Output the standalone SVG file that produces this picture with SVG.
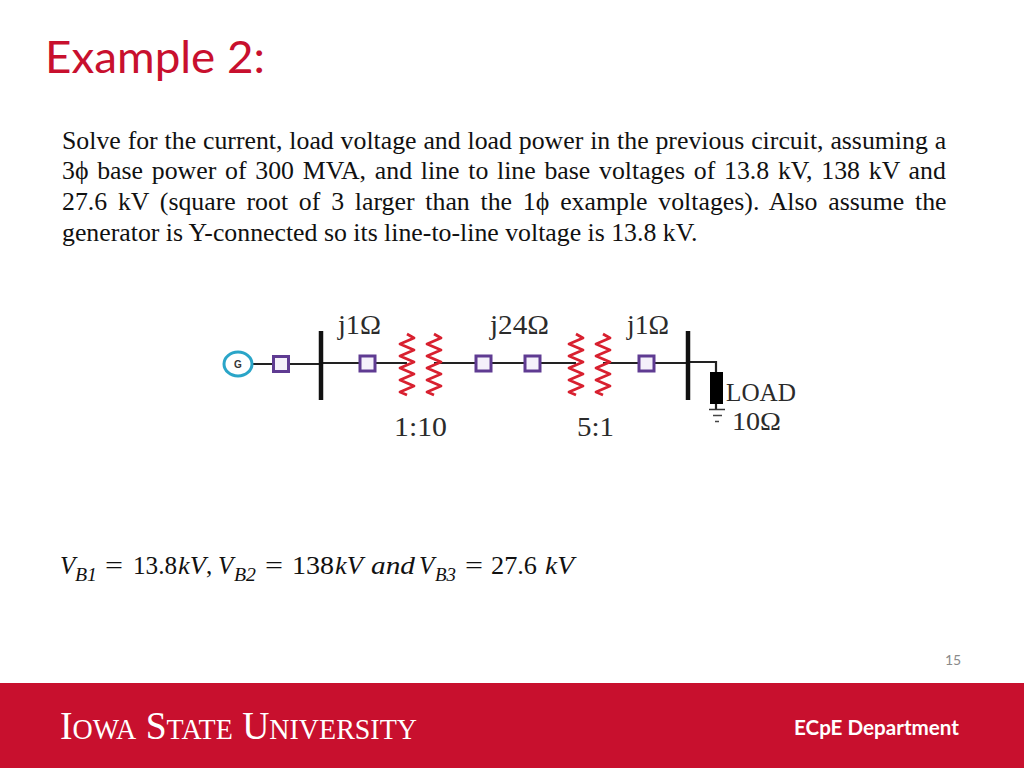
<svg xmlns="http://www.w3.org/2000/svg" width="1024" height="768" viewBox="0 0 1024 768">
<style>
.body{font-family:"Liberation Serif",serif;font-size:25.8px;fill:#111}
.lab{font-family:"Liberation Serif",serif;font-size:28px;fill:#2b2b2b}
.lab2{font-family:"Liberation Serif",serif;font-size:25.5px;fill:#2b2b2b}
.eq{font-family:"Liberation Serif",serif;font-size:25px;fill:#111}
.it{font-style:italic}
.sub{font-size:18px;font-style:italic}
.wire{fill:none;stroke:#222;stroke-width:2.2}
.bus{stroke:#111;stroke-width:4.500;fill:none}
.sq{fill:#f4f0fa;stroke:#5f3b92;stroke-width:3}
.coil{fill:none;stroke:#d8202f;stroke-width:2.800;stroke-linejoin:round}
.logo{font-family:"Liberation Serif",serif;fill:#fff}
</style>
<defs>
<path id="zig" class="coil" d="M0 0L7 4L-7 10L7 16L-7 22L7 28L-7 34L7 40L-7 46L7 52L-7 58L0 61"/>
</defs>
<rect width="1024" height="768" fill="#fff"/>
<text id="title" x="45" y="73" font-family="Lato,sans-serif" font-size="44" fill="#c8102e" textLength="220" lengthAdjust="spacingAndGlyphs">Example 2:</text>
<g id="para" class="body">
<text x="62" y="149" word-spacing="0.42">Solve for the current, load voltage and load power in the previous circuit, assuming a</text>
<text x="62" y="179" word-spacing="2.3">3ϕ base power of 300 MVA, and line to line base voltages of 13.8 kV, 138 kV and</text>
<text x="62" y="210" word-spacing="4.35">27.6 kV (square root of 3 larger than the 1ϕ example voltages). Also assume the</text>
<text x="62" y="241">generator is Y-connected so its line-to-line voltage is 13.8 kV.</text>
</g>
<g id="connectors">
<path class="wire" d="M252 364H321M321 363H407M434 363H576M603 363H688M688 362H716V373"/>
<path class="wire" d="M716 404V409"/>
<path d="M709 409.500H725" stroke="#333" stroke-width="1.500"/>
<path d="M713 415.500H722M715 421.500H719" stroke="#444" stroke-width="1.500"/>
</g>
<g id="gen">
<ellipse cx="238" cy="364" rx="14" ry="12" fill="#fff" stroke="#2aa5c8" stroke-width="3"/>
<text x="238" y="368" text-anchor="middle" font-family="Liberation Sans,sans-serif" font-size="10" font-weight="bold" fill="#333">G</text>
</g>
<g id="bus1"><path class="bus" d="M321 331V400"/></g>
<g id="bus2"><path class="bus" d="M688 331V400"/></g>
<g id="z1"><rect class="sq" x="273.500" y="356.500" width="15" height="15"/></g>
<g id="z2"><rect class="sq" x="360" y="356" width="15" height="15"/></g>
<g id="z3"><rect class="sq" x="476" y="356" width="15" height="15"/></g>
<g id="z4"><rect class="sq" x="525" y="356" width="15" height="15"/></g>
<g id="z5"><rect class="sq" x="639" y="356" width="15" height="15"/></g>
<g id="t1"><use href="#zig" x="407" y="334"/><use href="#zig" x="434" y="334"/></g>
<g id="t2"><use href="#zig" x="576" y="334"/><use href="#zig" x="603" y="334"/></g>
<g id="load"><rect x="710" y="372" width="13" height="32" fill="#000"/></g>
<g id="labels" class="lab">
<text x="338" y="334" textLength="43" lengthAdjust="spacingAndGlyphs">j1Ω</text>
<text x="490" y="334" textLength="59" lengthAdjust="spacingAndGlyphs">j24Ω</text>
<text x="627" y="334" textLength="42" lengthAdjust="spacingAndGlyphs">j1Ω</text>
<text x="394" y="436" textLength="53" lengthAdjust="spacingAndGlyphs">1:10</text>
<text x="577" y="436" textLength="37" lengthAdjust="spacingAndGlyphs">5:1</text>
<text class="lab2" x="726" y="401" textLength="70" lengthAdjust="spacingAndGlyphs">LOAD</text>
<text class="lab2" x="732" y="430" textLength="49" lengthAdjust="spacingAndGlyphs">10Ω</text>
</g>
<g id="equation" class="eq">
<text class="it" x="60" y="574">V</text><text class="sub" x="75" y="581" textLength="22" lengthAdjust="spacingAndGlyphs">B1</text>
<text x="105" y="574" textLength="18" lengthAdjust="spacingAndGlyphs">=</text><text x="133" y="574" textLength="44" lengthAdjust="spacingAndGlyphs">13.8</text>
<text class="it" x="178" y="574" textLength="28" lengthAdjust="spacingAndGlyphs">kV</text><text x="206" y="574">,</text>
<text class="it" x="218" y="574">V</text><text class="sub" x="234" y="581" textLength="22" lengthAdjust="spacingAndGlyphs">B2</text>
<text x="265" y="574" textLength="18" lengthAdjust="spacingAndGlyphs">=</text><text x="292" y="574" textLength="42" lengthAdjust="spacingAndGlyphs">138</text>
<text class="it" x="335" y="574" textLength="28" lengthAdjust="spacingAndGlyphs">kV</text>
<text class="it" x="371" y="574" textLength="44" lengthAdjust="spacingAndGlyphs">and</text>
<text class="it" x="419" y="574">V</text><text class="sub" x="435" y="581" textLength="21" lengthAdjust="spacingAndGlyphs">B3</text>
<text x="465" y="574" textLength="18" lengthAdjust="spacingAndGlyphs">=</text><text x="491" y="574" textLength="46" lengthAdjust="spacingAndGlyphs">27.6</text>
<text class="it" x="545" y="574" textLength="29" lengthAdjust="spacingAndGlyphs">kV</text>
</g>
<text id="page" x="945" y="665" font-family="Lato,sans-serif" font-size="14" fill="#8a8a8a">15</text>
<rect id="band" x="0" y="683" width="1024" height="85" fill="#c8102e"/>
<text id="logo" class="logo" x="60" y="739" font-size="39" textLength="357" lengthAdjust="spacingAndGlyphs">I<tspan font-size="29">OWA</tspan> S<tspan font-size="29">TATE</tspan> U<tspan font-size="29">NIVERSITY</tspan></text>
<text id="dept" x="794" y="735" font-family="Lato,sans-serif" font-size="20" font-weight="bold" fill="#fff" textLength="165" lengthAdjust="spacingAndGlyphs">ECpE Department</text>
</svg>
